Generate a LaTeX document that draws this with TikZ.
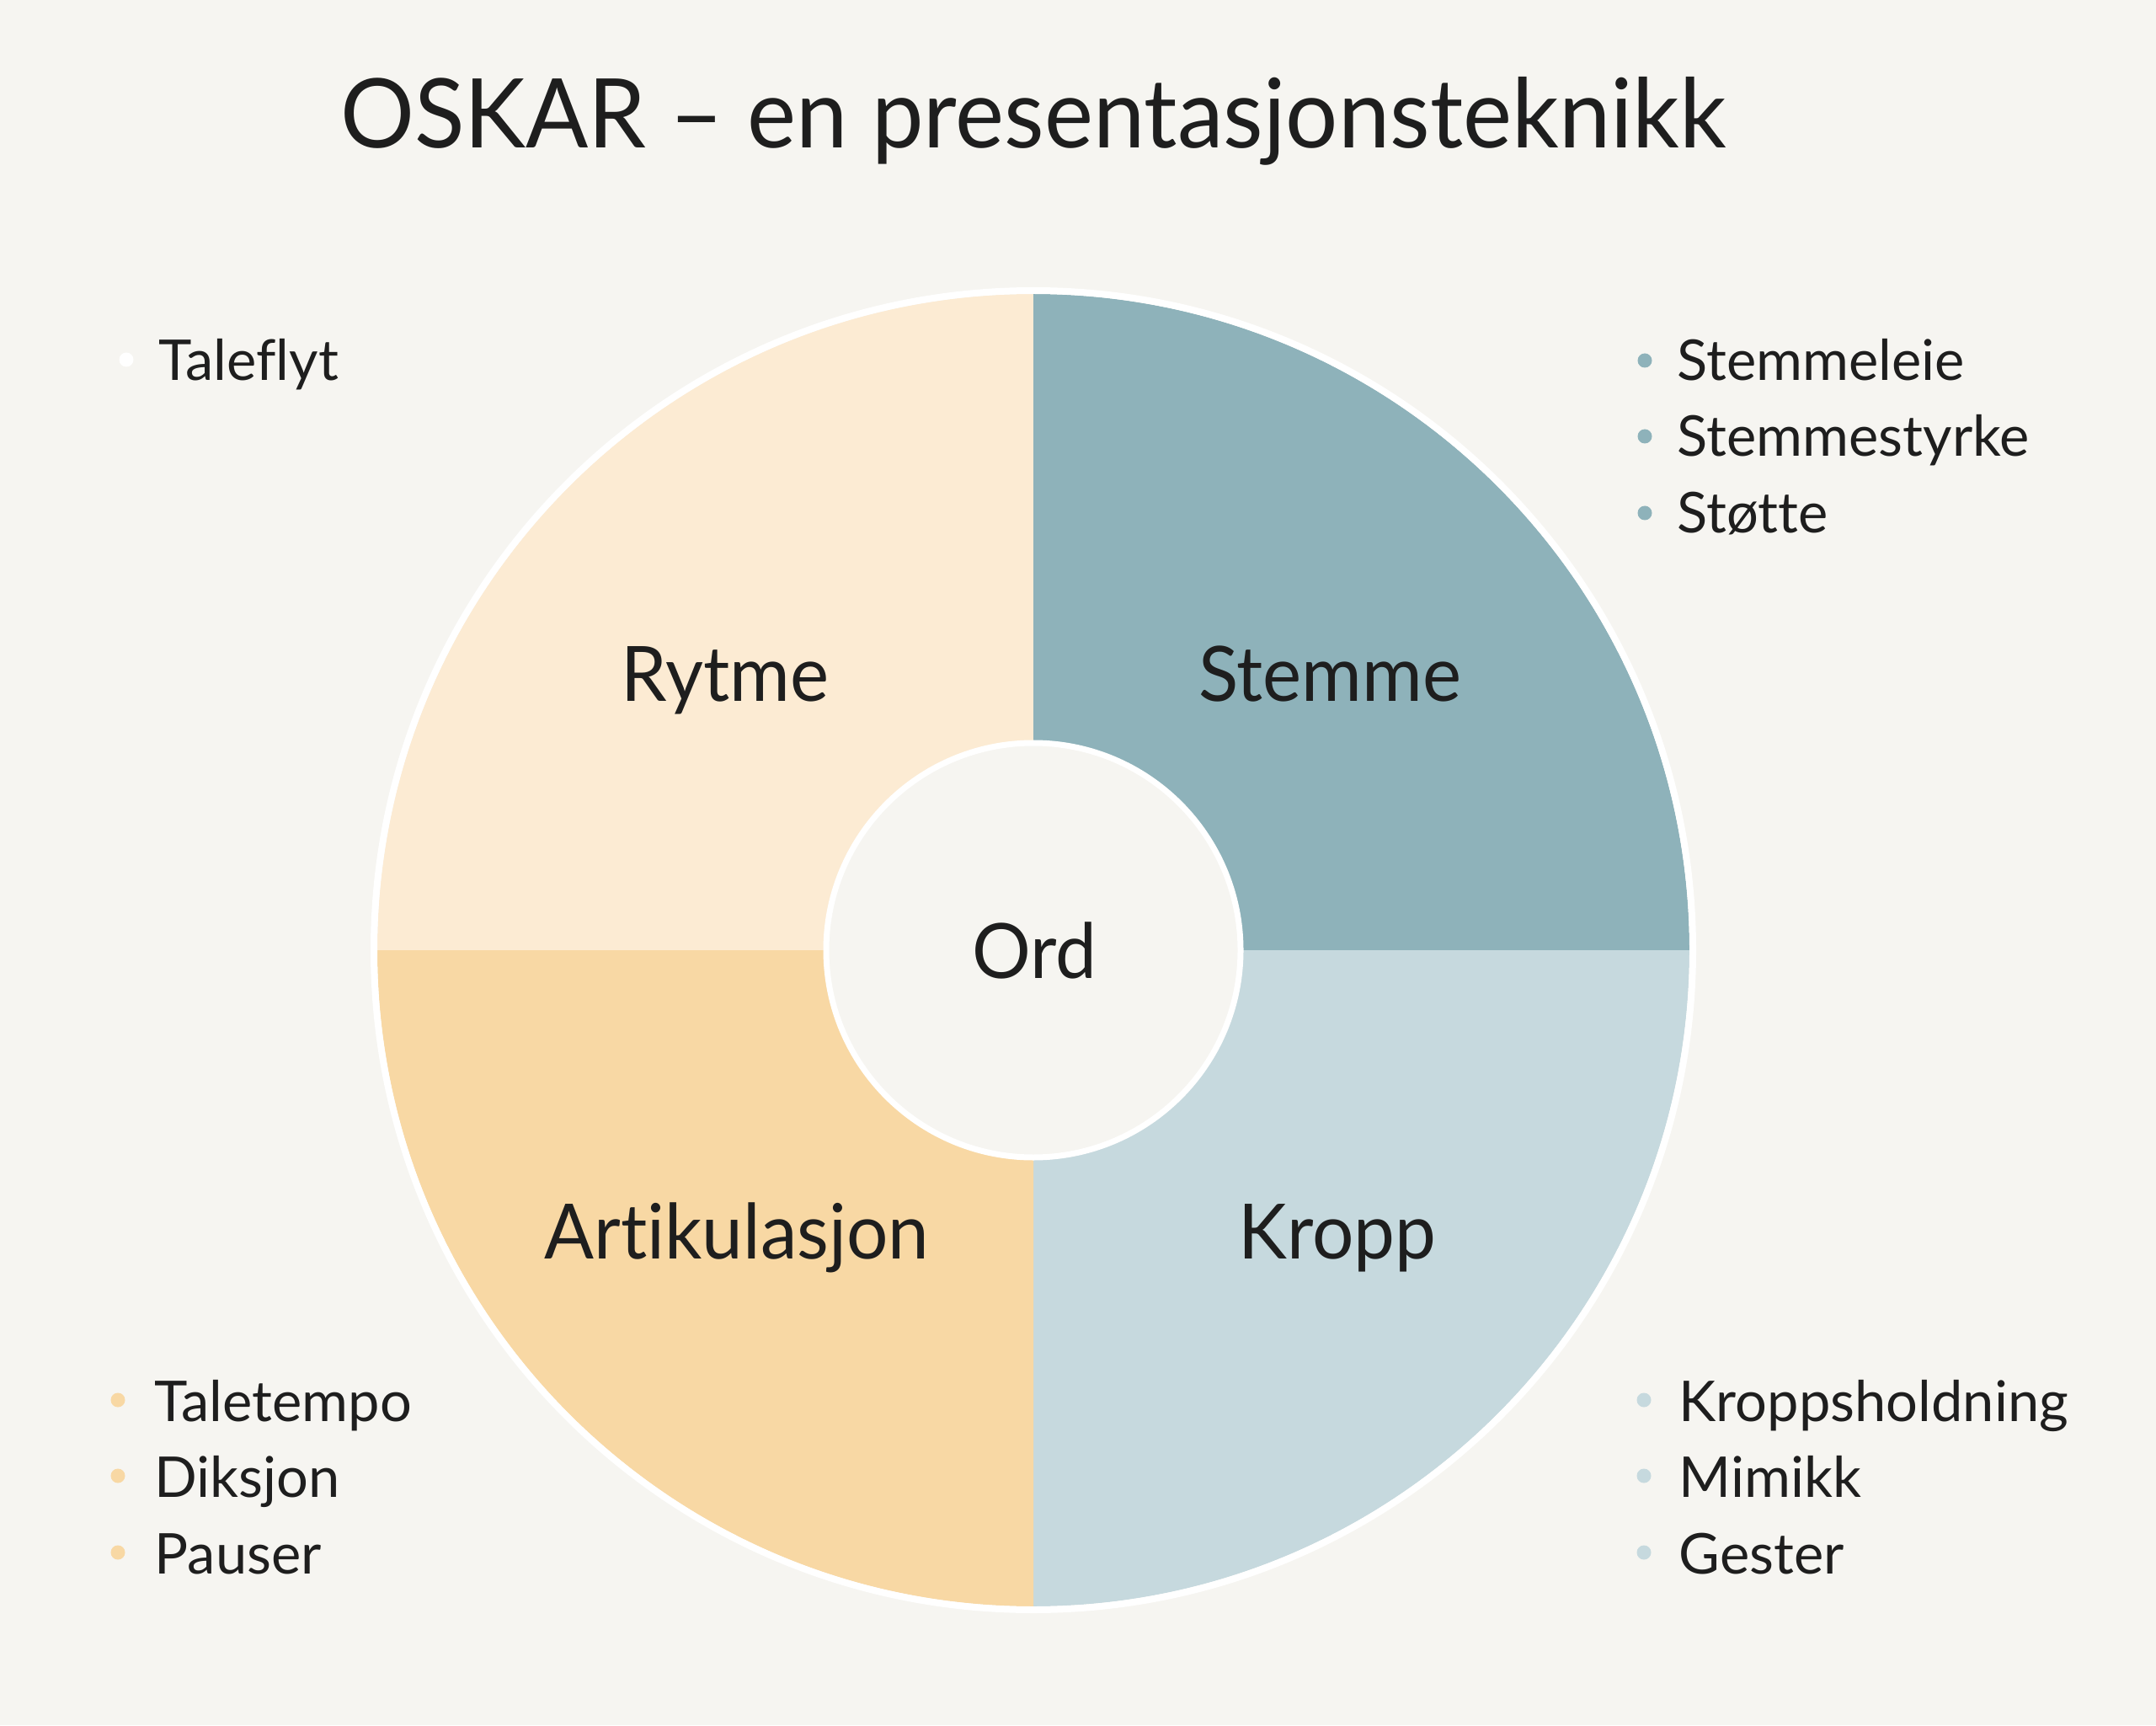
\documentclass[tikz,border=0pt]{standalone}
\usepackage{fontspec}
\setmainfont{Lato}[Ligatures=NoCommon]
\newfontfamily\smalfont{Lato}[Ligatures=NoCommon, FakeStretch=0.962]
\usepackage{tikz}

\definecolor{bakgrunn}{HTML}{F6F5F1}
\definecolor{rytme}{HTML}{FCEBD3}
\definecolor{stemme}{HTML}{8EB2BA}
\definecolor{kropp}{HTML}{C6D9DE}
\definecolor{artik}{HTML}{F8D8A4}
\definecolor{tekst}{HTML}{1E1E1E}

\begin{document}
\begin{tikzpicture}[
	every node/.style={inner sep=0pt, text=tekst},
	felt/.style={font=\smalfont\fontsize{25.8}{30}\selectfont, anchor=base},
	punkt/.style={font=\fontsize{19}{23}\selectfont, anchor=base west}]
					\fill[bakgrunn] (0,0) rectangle (25.6,20.48);
					\useasboundingbox (0,0) rectangle (25.6,20.48);
					\node[font=\smalfont\fontsize{32.5}{38}\selectfont, anchor=base] (tittel) at (12.27,18.72) {OSKAR – en presentasjonsteknikk};
					\coordinate (m) at (12.27,9.20);
					\fill[rytme] (m) -- +(180:7.79) arc (180:90:7.79) -- cycle;
					\fill[stemme] (m) -- +(90:7.79) arc (90:0:7.79) -- cycle;
					\fill[kropp] (m) -- +(0:7.79) arc (0:-90:7.79) -- cycle;
					\fill[artik] (m) -- +(270:7.79) arc (270:180:7.79) -- cycle;
					\draw[white, line width=.08cm] (m) circle (7.83);
					\filldraw[fill=bakgrunn, draw=white, line width=.07cm] (m) circle (2.46);
					\node[felt] (ord) at (12.28,8.87) {Ord};
					\node[felt] (rytmefelt) at (8.61,12.15) {Rytme};
					\node[felt] (stemmefelt) at (15.79,12.15) {Stemme};
					\node[felt] (artikfelt) at (8.75,5.54) {Artikulasjon};
					\node[felt] (kroppfelt) at (15.88,5.54) {Kropp};
					% punktlister
					\fill[white] (1.50,16.21) circle (.085);
					\node[punkt] (taleflyt) at (1.88,15.96) {Taleflyt};
					\fill[stemme] (19.53,16.20) circle (.085);
					\fill[stemme] (19.53,15.30) circle (.085);
					\fill[stemme] (19.53,14.39) circle (.085);
					\node[punkt] (stemmeleie) at (19.91,15.96) {Stemmeleie};
					\node[punkt] (stemmestyrke) at (19.91,15.06) {Stemmestyrke};
					\node[punkt] (stotte) at (19.91,14.15) {Støtte};
					\fill[artik] (1.40,3.86) circle (.085);
					\fill[artik] (1.40,2.96) circle (.085);
					\fill[artik] (1.40,2.05) circle (.085);
					\node[punkt] (taletempo) at (1.83,3.61) {Taletempo};
					\node[punkt] (diksjon) at (1.83,2.71) {Diksjon};
					\node[punkt] (pauser) at (1.83,1.80) {Pauser};
					\fill[kropp] (19.52,3.86) circle (.085);
					\fill[kropp] (19.52,2.96) circle (.085);
					\fill[kropp] (19.52,2.05) circle (.085);
					\node[punkt] (kroppsholdning) at (19.93,3.61) {Kroppsholdning};
					\node[punkt] (mimikk) at (19.93,2.71) {Mimikk};
					\node[punkt] (gester) at (19.93,1.80) {Gester};
				\end{tikzpicture}
\end{document}
